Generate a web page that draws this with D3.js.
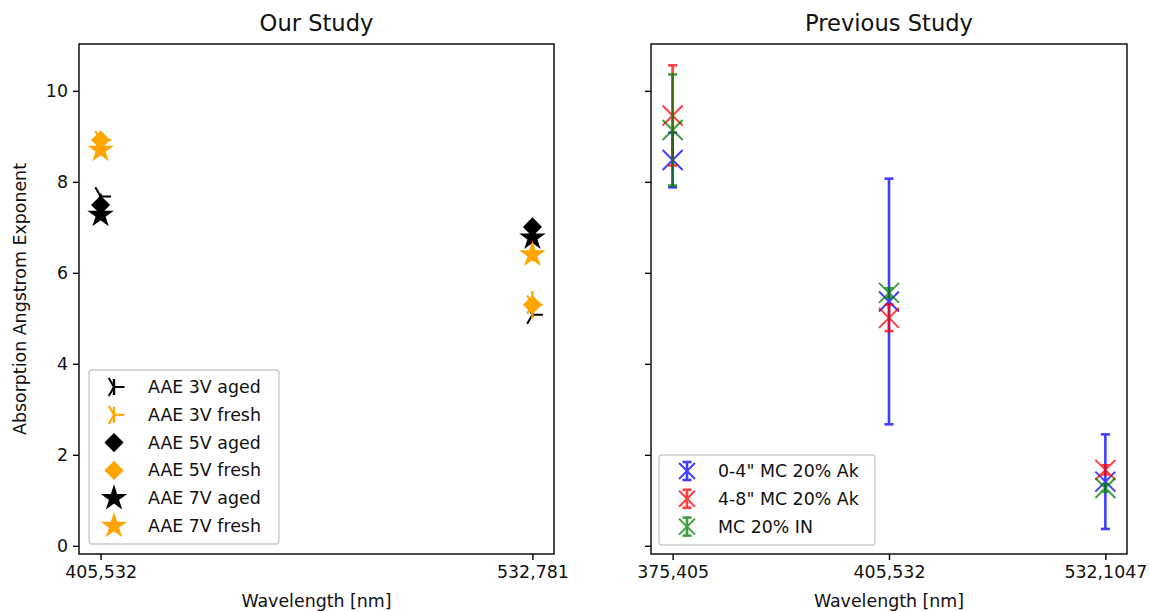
<!DOCTYPE html>
<html><head><meta charset="utf-8">
<script src="https://cdn.jsdelivr.net/npm/d3@7"></script>
<style>
body{margin:0;background:#fff;}
svg{display:block;font-family:"DejaVu Sans",sans-serif;}
</style></head>
<body>
<svg id="c" width="1149" height="611"></svg>
<script>
// ---------- DATA ----------
const leftCats = ["405,532", "532,781"];
const rightCats = ["375,405", "405,532", "532,1047"];
const yTicks = [0, 2, 4, 6, 8, 10];

// Our Study
const aae3vAged = [7.68, 5.08];
const aae3vAgedErr = [0.06, 0.05];
const aae3vFresh = [8.92, 5.30];
const aae3vFreshErr = [0.15, 0.30];
const aae5vAged = [7.49, 7.01];
const aae5vFresh = [8.92, 5.30];
const aae7vAged = [7.27, 6.77];
const aae7vFresh = [8.70, 6.40];

// Previous Study
const mc04Ak = [8.48, 5.37, 1.41];
const mc04AkErr = [0.60, 2.70, 1.04];
const mc48Ak = [9.46, 5.01, 1.67];
const mc48AkErr = [1.10, 0.29, 0.10];
const mc20IN = [9.14, 5.56, 1.27];
const mc20INErr = [1.22, 0.10, 0.08];

// ---------- LAYOUT ----------
const svg = d3.select("#c");
const TOPY = 44, BOTY = 554;
const y = d3.scaleLinear().domain([-0.18, 11.03]).range([BOTY, TOPY]);
const L = {x0: 79, x1: 554};
const R = {x0: 651, x1: 1127};
const xL = d3.scalePoint().domain(leftCats).range([L.x0, L.x1]).padding(0.05);
const xR = d3.scalePoint().domain(rightCats).range([R.x0, R.x1]).padding(0.1);

const FS = 17.4;

function starPath(r) {
  const pts = [];
  const ri = r * 0.381966;
  for (let i = 0; i < 10; i++) {
    const a = -Math.PI / 2 + i * Math.PI / 5;
    const rr = i % 2 === 0 ? r : ri;
    pts.push([rr * Math.cos(a), rr * Math.sin(a)]);
  }
  return "M" + pts.map(p => p[0].toFixed(2) + "," + p[1].toFixed(2)).join("L") + "Z";
}
function diamondPath(h) {
  return `M0,${-h}L${h},0L0,${h}L${-h},0Z`;
}
function triRightPath(a) {
  const c = Math.cos(Math.PI / 3) * a, s = Math.sin(Math.PI / 3) * a;
  return `M0,0L${a},0M0,0L${-c},${-s}M0,0L${-c},${s}`;
}
function xPath(a) {
  return `M${-a},${-a}L${a},${a}M${-a},${a}L${a},${-a}`;
}

// ---------- AXES ----------
function drawAxes(x, X, showYLabels, title) {
  const g = svg.append("g");
  const ya = d3.axisLeft(y).tickValues(yTicks).tickSize(6).tickPadding(5)
    .tickFormat(showYLabels ? d3.format("d") : () => "");
  const gy = g.append("g").attr("transform", `translate(${X.x0},0)`).call(ya);
  gy.select(".domain").remove();
  gy.selectAll("line").attr("stroke", "#000").attr("stroke-width", 1.4);
  gy.selectAll("text").attr("font-size", FS).attr("fill", "#111").attr("font-family", "DejaVu Sans");
  const xa = d3.axisBottom(x).tickSize(6).tickPadding(6);
  const gx = g.append("g").attr("transform", `translate(0,${BOTY})`).call(xa);
  gx.select(".domain").remove();
  gx.selectAll("line").attr("stroke", "#000").attr("stroke-width", 1.4);
  gx.selectAll("text").attr("font-size", FS).attr("fill", "#111").attr("font-family", "DejaVu Sans");
  g.append("rect").attr("x", X.x0).attr("y", TOPY).attr("width", X.x1 - X.x0).attr("height", BOTY - TOPY)
    .attr("fill", "none").attr("stroke", "#000").attr("stroke-width", 1.4);
  g.append("text").attr("x", (X.x0 + X.x1) / 2).attr("y", 31).attr("text-anchor", "middle")
    .attr("font-size", 22.6).attr("fill", "#111").text(title);
  g.append("text").attr("x", (X.x0 + X.x1) / 2).attr("y", 607).attr("text-anchor", "middle")
    .attr("font-size", FS).attr("fill", "#111").text("Wavelength [nm]");
  return g;
}

drawAxes(xL, L, true, "Our Study");
drawAxes(xR, R, false, "Previous Study");

svg.append("text").attr("transform", `translate(26,${(TOPY + BOTY) / 2}) rotate(-90)`)
  .attr("text-anchor", "middle").attr("font-size", FS).attr("fill", "#111")
  .text("Absorption Angstrom Exponent");

// ---------- LEFT MARKS ----------
const gL = svg.append("g");
const TRI = 10.5, DIA = 8.5, STAR = 11.5;

function drawTriSeries(vals, errs, color) {
  vals.forEach((v, i) => {
    const cx = xL(leftCats[i]);
    gL.append("line").attr("x1", cx).attr("x2", cx).attr("y1", y(v - errs[i])).attr("y2", y(v + errs[i]))
      .attr("stroke", color).attr("stroke-width", 2.4);
    gL.append("path").attr("d", triRightPath(TRI)).attr("transform", `translate(${cx},${y(v)})`)
      .attr("stroke", color).attr("stroke-width", 2).attr("fill", "none");
  });
}
function drawShapeSeries(vals, color, pathStr) {
  vals.forEach((v, i) => {
    const cx = xL(leftCats[i]);
    gL.append("path").attr("d", pathStr).attr("transform", `translate(${cx},${y(v)})`)
      .attr("fill", color).attr("stroke", color).attr("stroke-width", 1.5);
  });
}
drawTriSeries(aae3vAged, aae3vAgedErr, "#000");
drawTriSeries(aae3vFresh, aae3vFreshErr, "orange");
drawShapeSeries(aae5vAged, "#000", diamondPath(DIA));
drawShapeSeries(aae5vFresh, "orange", diamondPath(DIA));
drawShapeSeries(aae7vAged, "#000", starPath(STAR));
drawShapeSeries(aae7vFresh, "orange", starPath(STAR));

// ---------- RIGHT MARKS ----------
const gR = svg.append("g");
const XS = 10, CAP = 4.5, ALPHA = 0.75;
function drawErrX(vals, errs, color) {
  vals.forEach((v, i) => {
    const cx = xR(rightCats[i]);
    const g = gR.append("g").attr("opacity", ALPHA);
    g.append("line").attr("x1", cx).attr("x2", cx).attr("y1", y(v - errs[i])).attr("y2", y(v + errs[i]))
      .attr("stroke", color).attr("stroke-width", 2.6);
    [v - errs[i], v + errs[i]].forEach(e => {
      g.append("line").attr("x1", cx - CAP).attr("x2", cx + CAP).attr("y1", y(e)).attr("y2", y(e))
        .attr("stroke", color).attr("stroke-width", 2.6);
    });
    g.append("path").attr("d", xPath(XS)).attr("transform", `translate(${cx},${y(v)})`)
      .attr("stroke", color).attr("stroke-width", 2).attr("fill", "none");
  });
}
drawErrX(mc04Ak, mc04AkErr, "blue");
drawErrX(mc48Ak, mc48AkErr, "red");
drawErrX(mc20IN, mc20INErr, "green");

// ---------- LEGENDS ----------
function legendBox(x, yy, w, h) {
  svg.append("rect").attr("x", x).attr("y", yy).attr("width", w).attr("height", h).attr("rx", 3)
    .attr("fill", "#fff").attr("fill-opacity", 0.8).attr("stroke", "#ccc").attr("stroke-width", 1.4);
}
const leftLegend = [
  {label: "AAE 3V aged", color: "#000", type: "tri"},
  {label: "AAE 3V fresh", color: "orange", type: "tri"},
  {label: "AAE 5V aged", color: "#000", type: "dia"},
  {label: "AAE 5V fresh", color: "orange", type: "dia"},
  {label: "AAE 7V aged", color: "#000", type: "star"},
  {label: "AAE 7V fresh", color: "orange", type: "star"}
];
legendBox(89, 370, 190, 174);
leftLegend.forEach((d, i) => {
  const cy = 387 + i * 27.8, cx = 114;
  if (d.type === "tri") {
    svg.append("line").attr("x1", cx).attr("x2", cx).attr("y1", cy - 8).attr("y2", cy + 8)
      .attr("stroke", d.color).attr("stroke-width", 2.4);
    svg.append("path").attr("d", triRightPath(TRI)).attr("transform", `translate(${cx},${cy})`)
      .attr("stroke", d.color).attr("stroke-width", 2).attr("fill", "none");
  } else {
    svg.append("path").attr("d", d.type === "dia" ? diamondPath(DIA) : starPath(STAR))
      .attr("transform", `translate(${cx},${cy})`)
      .attr("fill", d.color).attr("stroke", d.color).attr("stroke-width", 1.5);
  }
  svg.append("text").attr("x", 148).attr("y", cy + 6).attr("font-size", FS).attr("fill", "#111").text(d.label);
});

const rightLegend = [
  {label: "0-4\" MC 20% Ak", color: "blue"},
  {label: "4-8\" MC 20% Ak", color: "red"},
  {label: "MC 20% IN", color: "green"}
];
legendBox(659, 455, 216, 90);
rightLegend.forEach((d, i) => {
  const cy = 471 + i * 27.8, cx = 687;
  const g = svg.append("g").attr("opacity", ALPHA);
  g.append("line").attr("x1", cx).attr("x2", cx).attr("y1", cy - 9).attr("y2", cy + 9)
    .attr("stroke", d.color).attr("stroke-width", 2.6);
  [cy - 9, cy + 9].forEach(e => g.append("line").attr("x1", cx - CAP).attr("x2", cx + CAP)
    .attr("y1", e).attr("y2", e).attr("stroke", d.color).attr("stroke-width", 2.6));
  g.append("path").attr("d", xPath(XS * 0.8)).attr("transform", `translate(${cx},${cy})`)
    .attr("stroke", d.color).attr("stroke-width", 2).attr("fill", "none");
  svg.append("text").attr("x", 718).attr("y", cy + 6).attr("font-size", FS).attr("fill", "#111").text(d.label);
});
</script>
</body></html>
